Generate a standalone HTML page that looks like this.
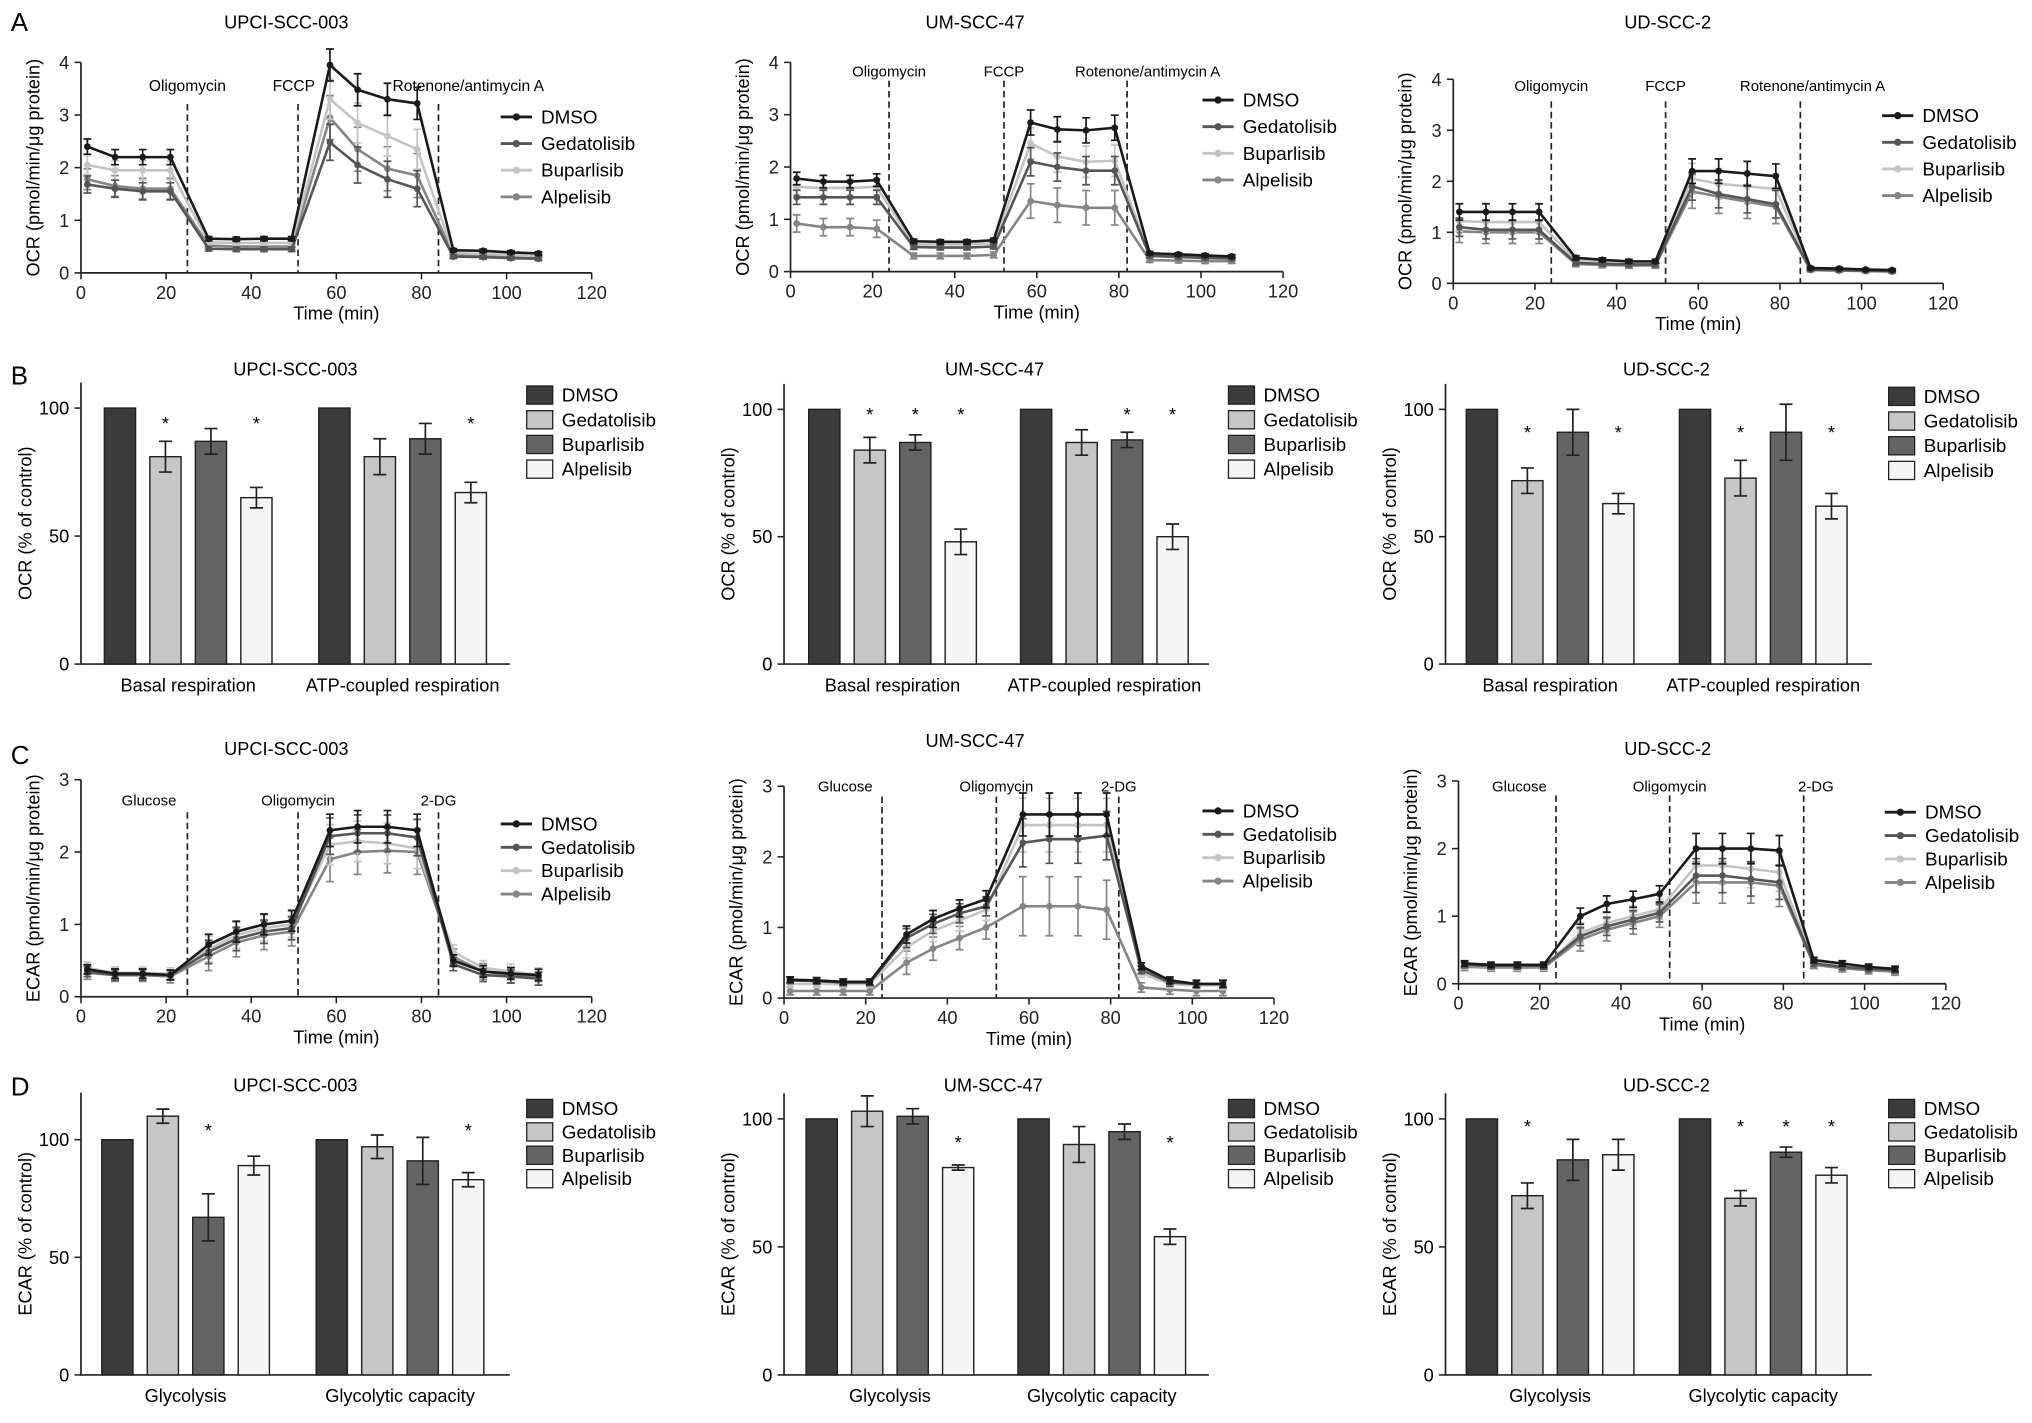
<!DOCTYPE html>
<html><head><meta charset="utf-8"><style>
html,body{margin:0;padding:0;background:#fff;}
svg{display:block;font-family:"Liberation Sans",Arial,sans-serif;}
</style></head><body>
<svg id="fig" width="2032" height="1423" viewBox="0 0 1563 1095" xmlns="http://www.w3.org/2000/svg">
<text x="8" y="24" font-size="20">A</text>
<text x="8" y="296" font-size="20">B</text>
<text x="8" y="588" font-size="20">C</text>
<text x="8" y="843" font-size="20">D</text>
</svg>
<script>
const svg=document.getElementById('fig');
const NS='http://www.w3.org/2000/svg';
function mk(tag,attrs,parent,txt){const e=document.createElementNS(NS,tag);for(const k in attrs)e.setAttribute(k,attrs[k]);if(txt!==undefined)e.textContent=txt;(parent||svg).appendChild(e);return e;}

// ---------- shared data ----------
const seriesNames=['DMSO','Gedatolisib','Buparlisib','Alpelisib'];
const lineColors=['#1a1a1a','#555555','#c4c4c4','#858585'];
const barColors=['#3b3b3b','#c6c6c6','#646464','#f5f5f5'];
const timePoints=[1.5,8,14.5,21,30,36.5,43,49.5,58.5,65,72,79,87.5,94.5,101,107.5];
const timeTicks=[0,20,40,60,80,100,120];

// A1 OCR UPCI-SCC-003
const a1Dmso=[2.4,2.2,2.2,2.2,0.65,0.64,0.65,0.65,3.95,3.48,3.3,3.22,0.43,0.42,0.39,0.37];
const a1Ged=[1.68,1.6,1.55,1.55,0.46,0.45,0.45,0.45,2.48,2.05,1.78,1.6,0.31,0.3,0.28,0.27];
const a1Bup=[2.05,1.95,1.95,1.95,0.58,0.57,0.57,0.57,3.3,2.85,2.6,2.35,0.38,0.36,0.34,0.32];
const a1Alp=[1.78,1.65,1.6,1.6,0.52,0.5,0.5,0.5,2.95,2.35,1.98,1.85,0.34,0.33,0.3,0.29];
const a1Err=[0.18,0.05,0.38,0.04];
// A2 OCR UM-SCC-47
const a2Dmso=[1.78,1.72,1.72,1.75,0.58,0.57,0.57,0.6,2.85,2.72,2.7,2.75,0.35,0.33,0.31,0.29];
const a2Ged=[1.42,1.42,1.42,1.42,0.47,0.46,0.46,0.48,2.1,2.0,1.93,1.93,0.3,0.28,0.26,0.25];
const a2Bup=[1.62,1.6,1.6,1.62,0.52,0.52,0.52,0.54,2.45,2.2,2.1,2.12,0.33,0.31,0.29,0.27];
const a2Alp=[0.92,0.85,0.85,0.82,0.3,0.3,0.3,0.32,1.35,1.27,1.22,1.22,0.22,0.21,0.2,0.2];
const a2Err=[0.15,0.05,0.3,0.04];
// A3 OCR UD-SCC-2
const a3Dmso=[1.4,1.4,1.4,1.4,0.5,0.46,0.43,0.43,2.2,2.2,2.15,2.1,0.3,0.29,0.27,0.26];
const a3Ged=[1.1,1.05,1.05,1.05,0.4,0.38,0.37,0.37,1.9,1.75,1.65,1.55,0.27,0.26,0.25,0.24];
const a3Bup=[1.22,1.2,1.2,1.2,0.45,0.42,0.4,0.4,2.05,1.95,1.9,1.85,0.28,0.27,0.26,0.25];
const a3Alp=[1.02,1.0,1.0,1.0,0.38,0.36,0.35,0.35,1.8,1.7,1.6,1.5,0.26,0.25,0.24,0.23];
const a3Err=[0.2,0.05,0.3,0.03];
// C1 ECAR UPCI-SCC-003
const c1Dmso=[0.38,0.32,0.32,0.3,0.72,0.9,1.0,1.05,2.3,2.35,2.35,2.3,0.5,0.35,0.32,0.3];
const c1Ged=[0.35,0.3,0.3,0.3,0.62,0.8,0.9,0.95,2.22,2.26,2.26,2.2,0.45,0.3,0.28,0.25];
const c1Bup=[0.4,0.33,0.33,0.32,0.66,0.85,0.95,1.0,2.1,2.15,2.12,2.05,0.62,0.4,0.35,0.3];
const c1Alp=[0.33,0.3,0.3,0.28,0.56,0.75,0.85,0.9,1.9,2.0,2.02,2.0,0.55,0.35,0.3,0.27];
const c1Err=[0.08,0.18,0.28,0.1];
// C2 ECAR UM-SCC-47
const c2Dmso=[0.26,0.25,0.23,0.23,0.9,1.12,1.27,1.4,2.6,2.6,2.6,2.6,0.45,0.25,0.2,0.2];
const c2Ged=[0.25,0.24,0.22,0.22,0.85,1.05,1.2,1.3,2.2,2.25,2.25,2.3,0.4,0.22,0.2,0.2];
const c2Bup=[0.2,0.2,0.2,0.2,0.72,0.95,1.1,1.25,2.45,2.45,2.45,2.45,0.35,0.2,0.18,0.18];
const c2Alp=[0.1,0.1,0.1,0.1,0.5,0.7,0.85,1.0,1.3,1.3,1.3,1.25,0.15,0.12,0.1,0.1];
const c2Err=[0.05,0.15,0.38,0.06];
// C3 ECAR UD-SCC-2
const c3Dmso=[0.3,0.28,0.28,0.28,1.0,1.18,1.25,1.33,2.0,2.0,2.0,1.97,0.35,0.3,0.25,0.22];
const c3Ged=[0.28,0.26,0.26,0.26,0.7,0.85,0.95,1.05,1.6,1.6,1.55,1.5,0.3,0.25,0.22,0.2];
const c3Bup=[0.27,0.25,0.25,0.25,0.75,0.9,1.0,1.1,1.75,1.75,1.7,1.65,0.32,0.27,0.23,0.2];
const c3Alp=[0.25,0.24,0.24,0.24,0.65,0.8,0.9,1.0,1.5,1.5,1.5,1.45,0.28,0.23,0.2,0.18];
const c3Err=[0.05,0.15,0.28,0.05];

// Bar data
const bCats=['Basal respiration','ATP-coupled respiration'];
const dCats=['Glycolysis','Glycolytic capacity'];
const b1Vals=[[100,81,87,65],[100,81,88,67]]; const b1Errs=[[0,6,5,4],[0,7,6,4]]; const b1Stars=[[0,1,0,1],[0,0,0,1]];
const b2Vals=[[100,84,87,48],[100,87,88,50]]; const b2Errs=[[0,5,3,5],[0,5,3,5]]; const b2Stars=[[0,1,1,1],[0,0,1,1]];
const b3Vals=[[100,72,91,63],[100,73,91,62]]; const b3Errs=[[0,5,9,4],[0,7,11,5]]; const b3Stars=[[0,1,0,1],[0,1,0,1]];
const d1Vals=[[100,110,67,89],[100,97,91,83]]; const d1Errs=[[0,3,10,4],[0,5,10,3]]; const d1Stars=[[0,0,1,0],[0,0,0,1]];
const d2Vals=[[100,103,101,81],[100,90,95,54]]; const d2Errs=[[0,6,3,1],[0,7,3,3]]; const d2Stars=[[0,0,0,1],[0,0,0,1]];
const d3Vals=[[100,70,84,86],[100,69,87,78]]; const d3Errs=[[0,5,8,6],[0,3,2,3]]; const d3Stars=[[0,1,0,0],[0,1,1,1]];
const barTicks=[0,50,100];

function phase(i){return i<4?0:i<8?1:i<12?2:3;}

function linePanel(cfg){
  const g=mk('g',{});
  
  
  const xs=t=>cfg.x0+(cfg.x1-cfg.x0)*t/120;
  const ys=v=>cfg.y0-(cfg.y0-cfg.yTop)*v/cfg.ymax;
  const t=mk('text',{x:cfg.tx,y:cfg.ty,'font-size':14,'text-anchor':'middle'},g,cfg.title);
  
  const ax=mk('path',{d:`M${cfg.x0},${ys(cfg.ymax)}V${cfg.y0}H${cfg.x1}`,stroke:'#222','stroke-width':1.3,fill:'none'},g);
  
  for(let v=0;v<=cfg.ymax;v++){
    mk('line',{x1:cfg.x0-5,x2:cfg.x0,y1:ys(v),y2:ys(v),stroke:'#222','stroke-width':1.2},g);
    const l=mk('text',{x:cfg.x0-9,y:ys(v)+5,'font-size':14,'text-anchor':'end',fill:'#222'},g,String(v));
    
  }
  timeTicks.forEach(v=>{
    mk('line',{x1:xs(v),x2:xs(v),y1:cfg.y0,y2:cfg.y0+5,stroke:'#222','stroke-width':1.2},g);
    const l=mk('text',{x:xs(v),y:cfg.y0+20,'font-size':14,'text-anchor':'middle',fill:'#222'},g,String(v));
    
  });
  const xl=mk('text',{x:xs(60),y:cfg.y0+36,'font-size':14,'text-anchor':'middle'},g,'Time (min)');
  
  const yc=(ys(0)+ys(cfg.ymax))/2;
  const yl=mk('text',{x:cfg.x0-32,y:yc,'font-size':14,'text-anchor':'middle',transform:`rotate(-90 ${cfg.x0-32} ${yc})`},g,cfg.ylabel);
  
  cfg.inj.forEach((p,i)=>{
    const d=mk('line',{x1:xs(p[0]),x2:xs(p[0]),y1:cfg.injY0,y2:cfg.y0,stroke:'#222','stroke-width':1.3,'stroke-dasharray':'5,3'},g);
    
    const l=mk('text',{x:xs(p[2]),y:cfg.injLY,'font-size':cfg.injFs||11.5,'text-anchor':'middle'},g,p[1]);
    
  });
  for(let s=3;s>=0;s--){
    const arr=cfg.series[s];
    const sg=mk('g',{},g);
    
    
    arr.forEach((v,i)=>{
      const e=cfg.err[phase(i)]*(0.8+0.1*s);
      const x=xs(timePoints[i]);
      mk('path',{d:`M${x},${ys(v+e)}V${ys(Math.max(0,v-e))}M${x-3},${ys(v+e)}h6M${x-3},${ys(Math.max(0,v-e))}h6`,stroke:lineColors[s],'stroke-width':1.3,fill:'none'},sg);
    });
    const pl=mk('polyline',{points:arr.map((v,i)=>xs(timePoints[i])+','+ys(v)).join(' '),stroke:lineColors[s],'stroke-width':2,fill:'none'},sg);
    
    arr.forEach((v,i)=>{
      const c=mk('circle',{cx:xs(timePoints[i]),cy:ys(v),r:2.6,fill:lineColors[s]},sg);
      
    });
  }
  seriesNames.forEach((n,s)=>{
    const y=cfg.ly+s*cfg.lstep;
    const lg=mk('g',{},g);
    
    mk('line',{x1:cfg.lx,x2:cfg.lx+24,y1:y,y2:y,stroke:lineColors[s],'stroke-width':2.2},lg);
    mk('circle',{cx:cfg.lx+12,cy:y,r:2.8,fill:lineColors[s]},lg);
    mk('text',{x:cfg.lx+31,y:y+5,'font-size':14.5},lg,n);
  });
}

function barPanel(cfg){
  const g=mk('g',{});
  
  
  const ys=v=>cfg.y0-(cfg.y0-cfg.y100)*v/100;
  const t=mk('text',{x:cfg.tx,y:cfg.ty,'font-size':14,'text-anchor':'middle'},g,cfg.title);
  
  const ax=mk('path',{d:`M${cfg.x0},${ys(cfg.ymax)}V${cfg.y0}H${cfg.xEnd}`,stroke:'#222','stroke-width':1.3,fill:'none'},g);
  
  barTicks.forEach(v=>{
    mk('line',{x1:cfg.x0-5,x2:cfg.x0,y1:ys(v),y2:ys(v),stroke:'#222','stroke-width':1.2},g);
    const l=mk('text',{x:cfg.x0-9,y:ys(v)+5,'font-size':14,'text-anchor':'end'},g,String(v));
    
  });
  const yc=(ys(0)+ys(cfg.ymax))/2;
  const yl=mk('text',{x:cfg.x0-38,y:yc,'font-size':14,'text-anchor':'middle',transform:`rotate(-90 ${cfg.x0-38} ${yc})`},g,cfg.ylabel);
  
  cfg.vals.forEach((grp,gi)=>{
    const gx=cfg.gx[gi];
    grp.forEach((v,s)=>{
      const x=gx+s*cfg.step;
      const r=mk('rect',{x:x,y:ys(v),width:cfg.bw,height:ys(0)-ys(v),fill:barColors[s],stroke:'#222','stroke-width':1.1},g);
      
      const e=cfg.errs[gi][s];
      if(e>0){
        const cx=x+cfg.bw/2;
        mk('path',{d:`M${cx},${ys(v-e)}V${ys(v+e)}M${cx-5},${ys(v+e)}h10M${cx-5},${ys(v-e)}h10`,stroke:'#222','stroke-width':1.3,fill:'none'},g);
      }
      if(cfg.stars[gi][s]){
        const st=mk('text',{x:x+cfg.bw/2,y:cfg.starY,'font-size':14,'text-anchor':'middle'},g,'*');
        
      }
    });
    const cl=mk('text',{x:gx+1.5*cfg.step+cfg.bw/2,y:cfg.y0+21,'font-size':14,'text-anchor':'middle'},g,cfg.cats[gi]);
    
  });
  seriesNames.forEach((n,s)=>{
    const y=cfg.ly+s*cfg.lstep;
    const lg=mk('g',{},g);
    
    mk('rect',{x:cfg.lx,y:y-7,width:20,height:14,fill:barColors[s],stroke:'#222','stroke-width':1},lg);
    mk('text',{x:cfg.lx+27,y:y+5,'font-size':14.5},lg,n);
  });
}

const OCR='OCR (pmol/min/\u03bcg protein)', ECAR='ECAR (pmol/min/\u03bcg protein)';
linePanel({name:'ocr-upci-scc-003',title:'UPCI-SCC-003',tx:220,ty:22,x0:62,x1:455,y0:210,yTop:48,ymax:4,ylabel:OCR,injFs:12,
  series:[a1Dmso,a1Ged,a1Bup,a1Alp],err:a1Err,inj:[[25,'Oligomycin',25],[51,'FCCP',50],[84,'Rotenone/antimycin A',91]],injY0:80,injLY:70,lx:385,ly:90,lstep:20.5});
linePanel({name:'ocr-um-scc-47',title:'UM-SCC-47',tx:750,ty:22,x0:608,x1:987,y0:209,yTop:48,ymax:4,ylabel:OCR,
  series:[a2Dmso,a2Ged,a2Bup,a2Alp],err:a2Err,inj:[[24,'Oligomycin',24],[52,'FCCP',52],[82,'Rotenone/antimycin A',87]],injY0:62,injLY:59,lx:925,ly:77,lstep:20.5});
linePanel({name:'ocr-ud-scc-2',title:'UD-SCC-2',tx:1283,ty:22,x0:1118,x1:1495,y0:218,yTop:61,ymax:4,ylabel:OCR,
  series:[a3Dmso,a3Ged,a3Bup,a3Alp],err:a3Err,inj:[[24,'Oligomycin',24],[52,'FCCP',52],[85,'Rotenone/antimycin A',88]],injY0:78,injLY:70,lx:1448,ly:89,lstep:20.5});

linePanel({name:'ecar-upci-scc-003',title:'UPCI-SCC-003',tx:220,ty:581,x0:62,x1:455,y0:767,yTop:600,ymax:3,ylabel:ECAR,
  series:[c1Dmso,c1Ged,c1Bup,c1Alp],err:c1Err,inj:[[25,'Glucose',16],[51,'Oligomycin',51],[84,'2-DG',84]],injY0:625,injLY:620,lx:385,ly:634,lstep:18});
linePanel({name:'ecar-um-scc-47',title:'UM-SCC-47',tx:750,ty:575,x0:603,x1:980,y0:768,yTop:605,ymax:3,ylabel:ECAR,
  series:[c2Dmso,c2Ged,c2Bup,c2Alp],err:c2Err,inj:[[24,'Glucose',15],[52,'Oligomycin',52],[82,'2-DG',82]],injY0:613,injLY:609,lx:925,ly:624,lstep:18});
linePanel({name:'ecar-ud-scc-2',title:'UD-SCC-2',tx:1283,ty:581,x0:1122,x1:1497,y0:757,yTop:601,ymax:3,ylabel:ECAR,
  series:[c3Dmso,c3Ged,c3Bup,c3Alp],err:c3Err,inj:[[24,'Glucose',15],[52,'Oligomycin',52],[85,'2-DG',88]],injY0:612,injLY:609,lx:1450,ly:625,lstep:18});

const OCRp='OCR (% of control)', ECARp='ECAR (% of control)';
barPanel({name:'ocr-bars-upci-scc-003',title:'UPCI-SCC-003',tx:227,ty:289,x0:62,xEnd:392,y0:511,y100:314,ymax:110,ylabel:OCRp,starY:331,
  vals:b1Vals,errs:b1Errs,stars:b1Stars,cats:bCats,gx:[80,245],step:35,bw:24,lx:405,ly:304,lstep:19});
barPanel({name:'ocr-bars-um-scc-47',title:'UM-SCC-47',tx:765,ty:289,x0:603,xEnd:930,y0:511,y100:315,ymax:110,ylabel:OCRp,starY:324,
  vals:b2Vals,errs:b2Errs,stars:b2Stars,cats:bCats,gx:[622,785],step:35,bw:24,lx:945,ly:304,lstep:19});
barPanel({name:'ocr-bars-ud-scc-2',title:'UD-SCC-2',tx:1282,ty:289,x0:1112,xEnd:1440,y0:511,y100:315,ymax:110,ylabel:OCRp,starY:338,
  vals:b3Vals,errs:b3Errs,stars:b3Stars,cats:bCats,gx:[1128,1292],step:35,bw:24,lx:1453,ly:305,lstep:19});
barPanel({name:'ecar-bars-upci-scc-003',title:'UPCI-SCC-003',tx:227,ty:840,x0:62,xEnd:392,y0:1058,y100:877,ymax:120,ylabel:ECARp,starY:875,
  vals:d1Vals,errs:d1Errs,stars:d1Stars,cats:dCats,gx:[78,243],step:35,bw:24,lx:405,ly:853,lstep:18});
barPanel({name:'ecar-bars-um-scc-47',title:'UM-SCC-47',tx:764,ty:840,x0:603,xEnd:930,y0:1058,y100:861,ymax:110,ylabel:ECARp,starY:884,
  vals:d2Vals,errs:d2Errs,stars:d2Stars,cats:dCats,gx:[620,783],step:35,bw:24,lx:945,ly:853,lstep:18});
barPanel({name:'ecar-bars-ud-scc-2',title:'UD-SCC-2',tx:1282,ty:840,x0:1112,xEnd:1440,y0:1058,y100:861,ymax:110,ylabel:ECARp,starY:872,
  vals:d3Vals,errs:d3Errs,stars:d3Stars,cats:dCats,gx:[1128,1292],step:35,bw:24,lx:1453,ly:853,lstep:18});
</script>
</body></html>
